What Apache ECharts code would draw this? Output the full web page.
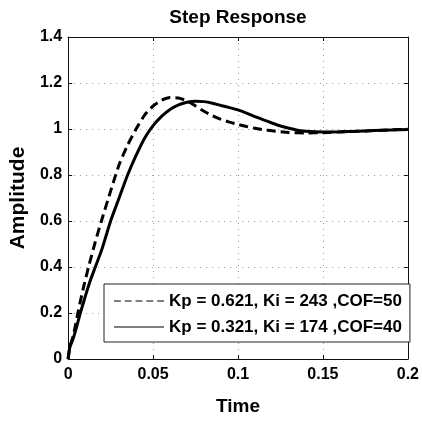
<!DOCTYPE html>
<html>
<head>
<meta charset="utf-8">
<script src="https://cdn.jsdelivr.net/npm/echarts@6/dist/echarts.min.js"></script>
<style>
html,body{margin:0;padding:0;background:#fff;}
#chart{width:422px;height:423px;}
</style>
</head>
<body>
<div id="chart"></div>
<script>
var titleText = 'Step Response';
var xName = 'Time';
var yName = 'Amplitude';
var xTicks = [0, 0.05, 0.1, 0.15, 0.2];
var yTicks = [0, 0.2, 0.4, 0.6, 0.8, 1, 1.2, 1.4];
var name1 = 'Kp = 0.621, Ki = 243 ,COF=50';
var name2 = 'Kp = 0.321, Ki = 174 ,COF=40';

var t1 = [0, 0.001, 0.003, 0.006, 0.009, 0.012, 0.016, 0.020, 0.025, 0.030, 0.035, 0.040, 0.045, 0.050, 0.055, 0.060, 0.065, 0.070, 0.075, 0.080, 0.085, 0.090, 0.095, 0.100, 0.105, 0.110, 0.115, 0.120, 0.125, 0.130, 0.140, 0.150, 0.160, 0.170, 0.180, 0.190, 0.200];
var v1 = [0, 0.055, 0.10, 0.21, 0.31, 0.40, 0.51, 0.61, 0.73, 0.845, 0.93, 1.0, 1.06, 1.10, 1.125, 1.137, 1.135, 1.122, 1.10, 1.077, 1.058, 1.042, 1.030, 1.020, 1.011, 1.003, 0.997, 0.992, 0.988, 0.985, 0.983, 0.984, 0.987, 0.990, 0.993, 0.996, 0.999];

var t2 = [0, 0.001, 0.003, 0.005, 0.007, 0.010, 0.013, 0.016, 0.020, 0.025, 0.030, 0.035, 0.040, 0.045, 0.050, 0.055, 0.060, 0.065, 0.070, 0.075, 0.080, 0.085, 0.090, 0.095, 0.100, 0.105, 0.110, 0.115, 0.120, 0.125, 0.130, 0.135, 0.140, 0.150, 0.160, 0.170, 0.180, 0.190, 0.200];
var v2 = [0, 0.05, 0.09, 0.14, 0.195, 0.27, 0.34, 0.40, 0.48, 0.60, 0.70, 0.80, 0.885, 0.96, 1.015, 1.055, 1.085, 1.105, 1.116, 1.121, 1.119, 1.112, 1.102, 1.093, 1.083, 1.069, 1.054, 1.040, 1.026, 1.013, 1.003, 0.995, 0.990, 0.987, 0.988, 0.990, 0.993, 0.996, 0.998];

function pairs(t, v) { return t.map(function (x, i) { return [x, v[i]]; }); }
function fmt(v) { return String(+v.toFixed(2)); }

var font = 'Liberation Sans, Arial, Helvetica, sans-serif';
var dashIcon = 'path://M0 0H6.8V1H0Z M10.7 0H17.5V1H10.7Z M21.4 0H28.2V1H21.4Z M32.1 0H38.9V1H32.1Z M42.8 0H49.6V1H42.8Z';
var solidIcon = 'path://M0 0H50V1H0Z';

var frameLine = {show: true, onZero: false, lineStyle: {color: '#111', width: 1}};
var innerTick = {show: true, inside: true, length: 4, lineStyle: {color: '#111'}};

var chart = echarts.init(document.getElementById('chart'), null, {renderer: 'canvas'});
chart.setOption({
  animation: false,
  backgroundColor: '#fff',
  title: {
    text: titleText,
    left: 233,
    textAlign: 'center',
    top: 3,
    textStyle: {fontFamily: font, fontWeight: 'bold', fontSize: 19, color: '#000'}
  },
  grid: {left: 64, right: 13, top: 37, bottom: 64, show: false},
  legend: {
    orient: 'vertical',
    left: 104,
    top: 284,
    padding: [8, 8, 6, 10],
    itemGap: 8,
    itemWidth: 50,
    itemHeight: 1.5,
    backgroundColor: '#fff',
    borderColor: '#222',
    borderWidth: 1,
    borderRadius: 0,
    selectedMode: false,
    itemStyle: {borderWidth: 0, color: '#000', opacity: 1},
    textStyle: {fontFamily: font, fontWeight: 'bold', fontSize: 17, color: '#000', lineHeight: 18},
    data: [{name: name1, icon: dashIcon}, {name: name2, icon: solidIcon}]
  },
  xAxis: [{
    type: 'value', min: xTicks[0], max: xTicks[xTicks.length - 1], interval: 0.05,
    name: xName, nameLocation: 'middle', nameGap: 38,
    nameTextStyle: {fontFamily: font, fontWeight: 'bold', fontSize: 19, color: '#000'},
    axisLine: frameLine,
    axisTick: innerTick,
    axisLabel: {formatter: fmt, margin: 8, fontFamily: font, fontWeight: 'bold', fontSize: 16, color: '#000'},
    splitLine: {show: true, lineStyle: {color: '#999', type: [1, 5], width: 1}}
  }, {
    type: 'value', position: 'top', min: xTicks[0], max: xTicks[xTicks.length - 1], interval: 0.05,
    axisLine: frameLine,
    axisTick: innerTick,
    axisLabel: {show: false}, splitLine: {show: false}
  }],
  yAxis: [{
    type: 'value', min: yTicks[0], max: yTicks[yTicks.length - 1], interval: 0.2,
    name: yName, nameLocation: 'middle', nameGap: 34, nameRotate: 90,
    nameTextStyle: {fontFamily: font, fontWeight: 'bold', fontSize: 21, color: '#000'},
    axisLine: frameLine,
    axisTick: innerTick,
    axisLabel: {formatter: fmt, margin: 6, fontFamily: font, fontWeight: 'bold', fontSize: 16, color: '#000'},
    splitLine: {show: true, lineStyle: {color: '#999', type: [1, 5], width: 1}}
  }, {
    type: 'value', position: 'right', min: yTicks[0], max: yTicks[yTicks.length - 1], interval: 0.2,
    axisLine: frameLine,
    axisTick: innerTick,
    axisLabel: {show: false}, splitLine: {show: false}
  }],
  series: [{
    name: name2, type: 'line', xAxisIndex: 0, yAxisIndex: 0,
    data: pairs(t2, v2), showSymbol: false, smooth: 0.2,
    color: '#000',
    lineStyle: {color: '#000', width: 3, type: 'solid'}
  }, {
    name: name1, type: 'line', xAxisIndex: 0, yAxisIndex: 0,
    data: pairs(t1, v1), showSymbol: false, smooth: 0.2,
    color: '#000',
    lineStyle: {color: '#000', width: 3, type: [9, 5]}
  }]
});
</script>
</body>
</html>
